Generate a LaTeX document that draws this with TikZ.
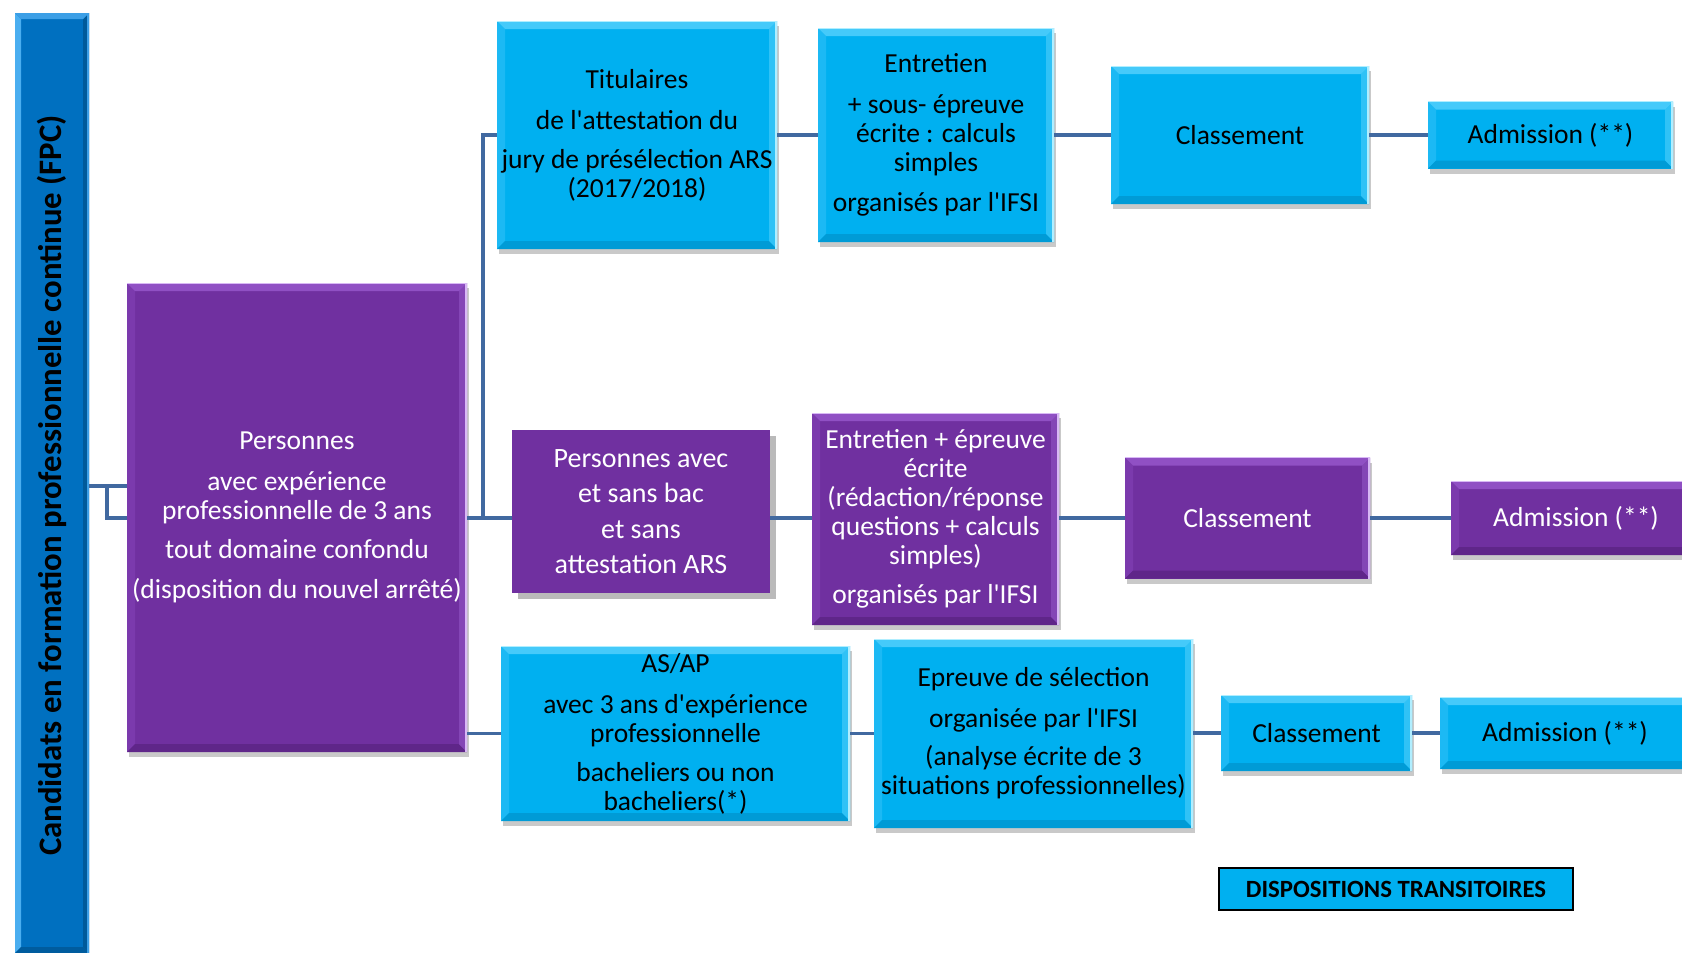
\documentclass[tikz,border=0pt]{standalone}
\usepackage{fontspec}
\setmainfont{Carlito}[Ligatures=TeXOff]
\usetikzlibrary{shadows,calc}
\definecolor{cblue}{HTML}{00B0F0}
\definecolor{cbluetop}{HTML}{45CAFA}
\definecolor{cblueleft}{HTML}{1CB9F4}
\definecolor{cbluebot}{HTML}{009BD6}
\definecolor{cblueright}{HTML}{30C2F6}
\definecolor{cblueedge}{HTML}{B0EEFF}
\definecolor{cpurp}{HTML}{7030A0}
\definecolor{cpurptop}{HTML}{9050C4}
\definecolor{cpurpleft}{HTML}{7B3AAD}
\definecolor{cpurpbot}{HTML}{5F2689}
\definecolor{cpurpright}{HTML}{8446B6}
\definecolor{cpurpedge}{HTML}{D8B8F5}
\definecolor{cbar}{HTML}{0070C0}
\definecolor{cbartop}{HTML}{3C9FE6}
\definecolor{cbarleft}{HTML}{4AAEF0}
\definecolor{cbarbot}{HTML}{005C9E}
\definecolor{cbarright}{HTML}{005A9A}
\definecolor{cline}{HTML}{4169A0}
\newcommand\mybevel[6]{%
  \coordinate (bvNW) at (path picture bounding box.north west);
  \coordinate (bvNE) at (path picture bounding box.north east);
  \coordinate (bvSW) at (path picture bounding box.south west);
  \coordinate (bvSE) at (path picture bounding box.south east);
  \fill[#2] (bvNW) -- ([shift={(#5,-#5)}]bvNW) -- ([shift={(#5,#5)}]bvSW) -- (bvSW) -- cycle;
  \fill[#3] (bvSW) -- ([shift={(#5,#5)}]bvSW) -- ([shift={(-#5,#5)}]bvSE) -- (bvSE) -- cycle;
  \fill[#4] (bvNE) -- ([shift={(-#5,-#5)}]bvNE) -- ([shift={(-#5,#5)}]bvSE) -- (bvSE) -- cycle;
  \fill[#1] (bvNW) -- (bvNE) -- ([shift={(-#5,-#5)}]bvNE) -- ([shift={(#5,-#5)}]bvNW) -- cycle;
  \draw[#6, line width=1.6pt] (bvNE) -- (bvSE);
  \draw[#6, line width=0.8pt] (bvNW) -- (bvNE);
}
\tikzset{
  box/.style={rectangle, inner sep=0pt, align=center, font=\fontsize{13.75}{14.5}\selectfont},
  bshadow/.style={drop shadow={shadow xshift=1pt, shadow yshift=-2.5pt, opacity=.35, fill=black!60}},
  bluebox/.style={box, bshadow, fill=cblue, text=black,
    path picture={\mybevel{cbluetop}{cblueleft}{cbluebot}{cblueright}{4pt}{cblueedge}}},
  purplebox/.style={box, bshadow, fill=cpurp, text=white,
    path picture={\mybevel{cpurptop}{cpurpleft}{cpurpbot}{cpurpright}{4pt}{cpurpedge}}},
  flatpurple/.style={box, fill=cpurp, text=white,
    drop shadow={shadow xshift=3pt, shadow yshift=-3pt, opacity=.45, fill=black!60}},
  barbox/.style={rectangle, inner sep=0pt, fill=cbar,
    path picture={\mybevel{cbartop}{cbarleft}{cbarbot}{cbarright}{3pt}{cbartop}}},
  conn/.style={draw=cline, line width=1.6pt},
  tagbox/.style={rectangle, inner sep=0pt, fill=cblue, draw=black, line width=0.7pt,
    font=\bfseries\fontsize{12.4}{14}\selectfont},
}
\begin{document}
\begin{tikzpicture}[x=0.5pt,y=-0.5pt]
\fill[white] (0,0) rectangle (1682,953);
\useasboundingbox (0,0) rectangle (1682,953);

% left bar
\node[barbox, minimum width=37pt, minimum height=470pt] (bar) at (52,483) {};
\node[rotate=90, font=\bfseries\fontsize{16.4}{18}\selectfont] (bartext) at (51.5,485.5)
  {Candidats en formation professionnelle continue (FPC)};

% big purple
\node[purplebox, minimum width=170pt, minimum height=234.5pt] (pbig) at (297,517.5)
  {Personnes\\[6pt] avec expérience\\ professionnelle de 3 ans\\[5pt] tout domaine confondu\\[5.5pt] (disposition du nouvel arrêté)};

% top row
\node[bluebox, minimum width=140pt, minimum height=114pt] (tit) at (637,135)
  {Titulaires\\[6pt] de l'attestation du\\[5pt] jury de présélection ARS\\ (2017/2018)};
\node[bluebox, minimum width=118pt, minimum height=107pt] (ent1) at (936,135)
  {Entretien\\[6pt] + sous- épreuve\\ écrite : calculs\\ simples\\[5.5pt] organisés par l'IFSI};
\node[bluebox, minimum width=129pt, minimum height=69pt] (cls1) at (1240,135) {Classement};
\node[bluebox, minimum width=122.5pt, minimum height=33.5pt] (adm1) at (1550.5,135) {Admission (**)};

% middle row
\node[flatpurple, minimum width=129pt, minimum height=81.5pt, font=\fontsize{14}{17.75}\selectfont] (pavec) at (641,511.5)
  {Personnes avec\\ et sans bac\\ et sans\\ attestation ARS};
\node[purplebox, minimum width=123.5pt, minimum height=106pt] (ent2) at (935.5,519)
  {Entretien + épreuve\\ écrite\\ (rédaction/réponse\\ questions + calculs\\ simples)\\[5pt] organisés par l'IFSI};
\node[purplebox, minimum width=122.5pt, minimum height=60.5pt] (cls2) at (1247.5,518) {Classement};
\node[purplebox, minimum width=125pt, minimum height=37pt] (adm2) at (1576,518) {Admission (**)};

% bottom row
\node[bluebox, minimum width=174.5pt, minimum height=87.5pt] (asap) at (675.5,733.5)
  {AS/AP\\[6pt] avec 3 ans d'expérience\\ professionnelle\\[5pt] bacheliers ou non\\ bacheliers(*)};
\node[bluebox, minimum width=159.5pt, minimum height=94.5pt] (epr) at (1033.5,733.5)
  {Epreuve de sélection\\[6pt] organisée par l'IFSI\\[4.5pt] (analyse écrite de 3\\ situations professionnelles)};
\node[bluebox, minimum width=95.5pt, minimum height=38pt] (cls3) at (1316.5,733) {Classement};
\node[bluebox, minimum width=125pt, minimum height=36pt] (adm3) at (1565,733) {Admission (**)};

% legend
\node[tagbox, minimum width=177pt, minimum height=21pt] (disp) at (1396,889) {DISPOSITIONS TRANSITOIRES};

% connectors
\coordinate (j1) at (107,486);
\coordinate (j3) at (483,518);
\draw[conn] (bar.east |- j1) -- (pbig.west |- j1);
\draw[conn] (j1) |- (pbig.west |- j3);
\draw[conn] (pbig.east |- j3) -- (pavec.west |- j3);
\draw[conn] (j3) |- (tit.west);
\draw[conn] (tit.east) -- (ent1.west);
\draw[conn] (ent1.east) -- (cls1.west);
\draw[conn] (cls1.east) -- (adm1.west);
\draw[conn] (pavec.east |- j3) -- (ent2.west |- j3);
\draw[conn] (ent2.east |- cls2.west) -- (cls2.west);
\draw[conn] (cls2.east) -- (adm2.west);
\draw[conn] (pbig.east |- asap.west) -- (asap.west);
\draw[conn] (asap.east) -- (epr.west);
\draw[conn] (epr.east |- cls3.west) -- (cls3.west);
\draw[conn] (cls3.east) -- (adm3.west);
\end{tikzpicture}
\end{document}
